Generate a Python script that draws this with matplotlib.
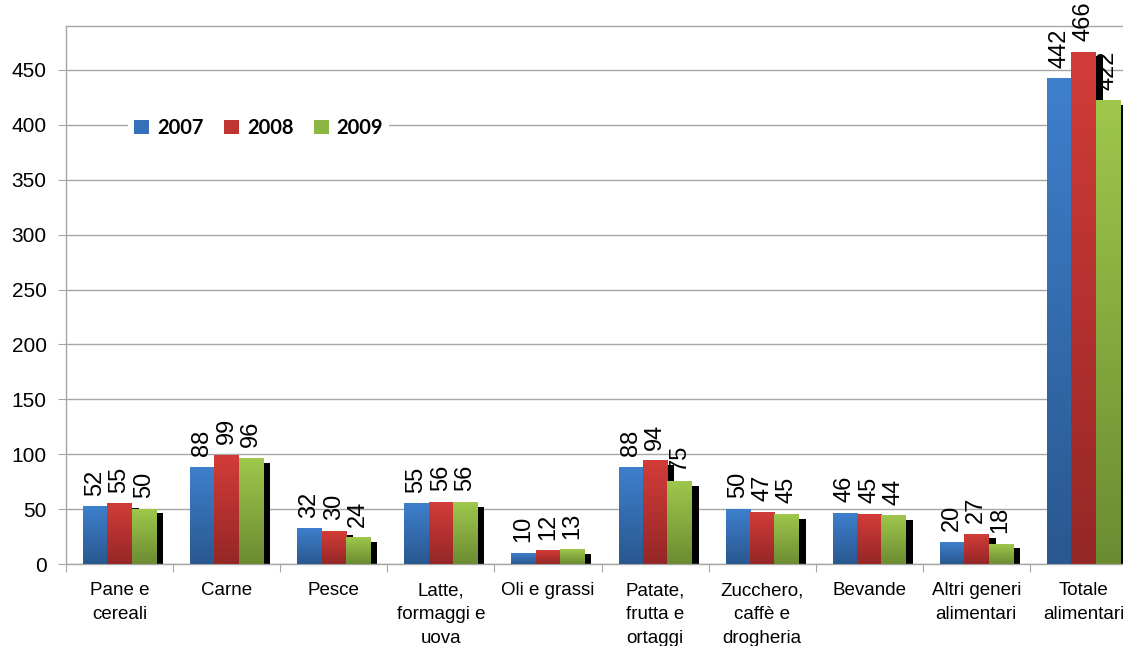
import numpy as np
import matplotlib
matplotlib.use("Agg")
import matplotlib.pyplot as plt
from matplotlib.patches import Patch
from matplotlib.colors import LinearSegmentedColormap

categorie = ["Pane e\ncereali", "Carne", "Pesce", "Latte,\nformaggi e\nuova", "Oli e grassi",
             "Patate,\nfrutta e\nortaggi", "Zucchero,\ncaffè e\ndrogheria", "Bevande",
             "Altri generi\nalimentari", "Totale\nalimentari"]
anni = ["2007", "2008", "2009"]
valori_2007 = [52, 88, 32, 55, 10, 88, 50, 46, 20, 442]
valori_2008 = [55, 99, 30, 56, 12, 94, 47, 45, 27, 466]
valori_2009 = [50, 96, 24, 56, 13, 75, 45, 44, 18, 422]
yticks = list(range(0, 451, 50))

serie = [valori_2007, valori_2008, valori_2009]
# colore alto, colore basso (sfumatura)
colori = [("#3E7FCC", "#2A5890"), ("#D23C38", "#952727"), ("#9EC74B", "#6C8C32")]
colori_legenda = ["#3570B8", "#C03533", "#8DB543"]

plt.rcParams['font.family'] = ['Liberation Sans', 'DejaVu Sans']

fig = plt.figure(figsize=(11.23, 6.46), dpi=100)
ax = fig.add_axes([66 / 1123, 82 / 646, 1071 / 1123, 538 / 646])

grigio = "#A6A6A6"
larghezza = 0.227
x = np.arange(len(categorie))
ombra_dx = 7 / 107.1
ombra_giu = 4 / 1.098

# ombre nere
for i, valori in enumerate(serie):
    pos = x + (i - 1) * larghezza + ombra_dx
    ax.bar(pos, np.array(valori) - ombra_giu, width=larghezza, color="black", zorder=2)

# barre con sfumatura
for i, valori in enumerate(serie):
    pos = x + (i - 1) * larghezza
    cmap = LinearSegmentedColormap.from_list("s%d" % i, [colori[i][1], colori[i][0]])
    barre = ax.bar(pos, valori, width=larghezza, color=colori[i][0], zorder=3)
    for b in barre:
        x0, y0 = b.get_x(), b.get_y()
        w, h = b.get_width(), b.get_height()
        grad = np.linspace(0, 1, 64).reshape(-1, 1)
        ax.imshow(grad, extent=(x0, x0 + w, y0, y0 + h), origin="lower", aspect="auto",
                  cmap=cmap, zorder=3.5, interpolation="bilinear")
    for b, v in zip(barre, valori):
        ax.annotate(str(v), (b.get_x() + b.get_width() / 2, b.get_height()),
                    xytext=(0, 8), textcoords="offset points", rotation=90,
                    ha="center", va="bottom", fontsize=17, zorder=5)

ax.set_xlim(-0.5, len(categorie) - 0.5)
ax.set_ylim(0, 490)

ax.set_yticks(yticks)
ax.yaxis.grid(True, color=grigio, linewidth=1)
ax.set_axisbelow(True)
ax.tick_params(axis="y", length=6, color=grigio, labelsize=15, pad=8)

ax.set_xticks(np.arange(len(categorie) + 1) - 0.5)
ax.set_xticklabels([])
ax.set_xticks(x, minor=True)
ax.set_xticklabels(categorie, minor=True, fontsize=13.5, linespacing=1.55)
ax.tick_params(axis="x", which="major", length=6, color=grigio)
ax.tick_params(axis="x", which="minor", length=0, pad=13)

for lato in ["left", "top", "bottom"]:
    ax.spines[lato].set_color(grigio)
    ax.spines[lato].set_linewidth(1)
ax.spines["right"].set_visible(False)

handles = [Patch(facecolor=c, edgecolor="none") for c in colori_legenda]
leg = ax.legend(handles, anni, loc="center left", bbox_to_anchor=(118 / 1123, 1 - 128 / 646),
                bbox_transform=fig.transFigure, ncol=3, frameon=True, fancybox=False,
                edgecolor="none", facecolor="white", framealpha=1,
                prop={"family": "Lato", "weight": "bold", "size": 14.5},
                handlelength=0.75, handleheight=0.75, handletextpad=0.4, columnspacing=1.0,
                borderpad=0.3)
leg.set_zorder(6)

fig.savefig("out.png", dpi=100)
